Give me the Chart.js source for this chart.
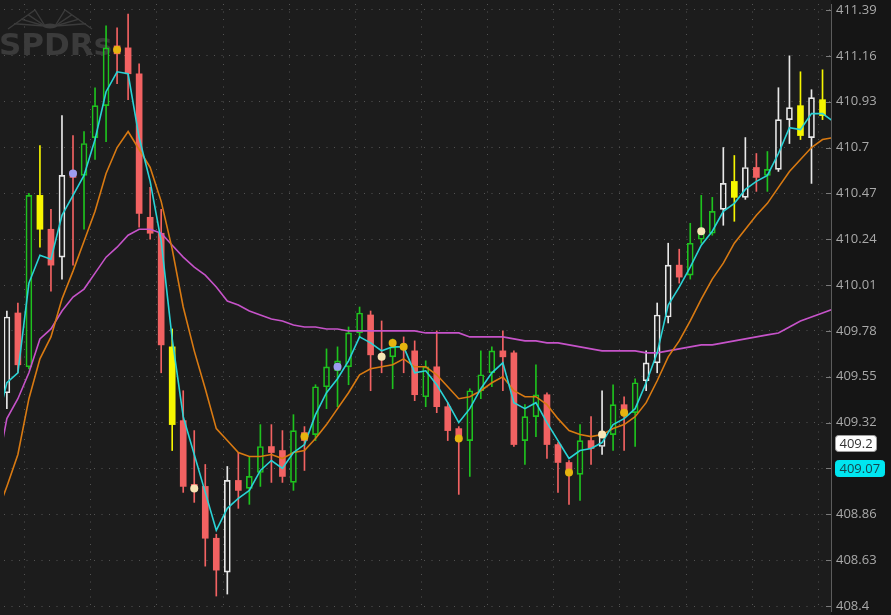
<!DOCTYPE html>
<html>
<head>
<meta charset="utf-8">
<script src="https://cdn.jsdelivr.net/npm/chart.js@4.4.1/dist/chart.umd.min.js"></script>
<style>
  html, body { margin: 0; padding: 0; background: #1b1b1b; }
  canvas { display: block; }
</style>
</head>
<body>
<canvas id="chart" width="891" height="615"></canvas>
<script>
// OHLC per bar
const opens  = [409.47,409.87,409.60,410.46,410.29,410.15,410.58,410.56,410.75,410.91,
                411.21,411.20,411.07,410.35,410.27,409.70,409.33,409.01,409.00,408.74,
                408.57,409.03,408.99,409.07,409.20,409.18,409.02,409.27,409.26,409.50,
                409.58,409.60,409.77,409.86,409.66,409.65,409.71,409.68,409.45,409.60,
                409.40,409.29,409.23,409.48,409.57,409.68,409.67,409.23,409.35,409.46,
                409.21,409.12,409.06,409.23,409.20,409.26,409.41,409.37,409.53,409.62,
                409.85,410.11,410.06,410.24,410.27,410.39,410.53,410.45,410.60,410.56,
                410.59,410.84,410.91,410.75,410.94];
const highs  = [409.88,409.92,410.47,410.71,410.39,410.86,410.76,410.78,411.00,411.31,
                411.30,411.37,411.12,410.50,410.39,409.79,409.48,409.28,409.11,408.76,
                409.10,409.17,409.15,409.31,409.31,409.28,409.36,409.30,409.51,409.69,
                409.70,409.80,409.90,409.88,409.83,409.74,409.75,409.73,409.63,409.78,
                409.42,409.30,409.49,409.68,409.70,409.78,409.68,409.41,409.61,409.47,
                409.22,409.13,409.31,409.35,409.48,409.51,409.45,409.54,409.68,409.92,
                410.22,410.19,410.32,410.46,410.45,410.70,410.66,410.75,410.67,410.68,
                411.00,411.16,411.08,410.99,411.09];
const lows   = [409.39,409.57,409.59,410.20,409.98,410.04,410.11,410.29,410.64,410.73,
                411.02,410.94,410.30,410.24,409.57,409.18,408.97,408.92,408.60,408.45,
                408.46,408.89,408.91,409.00,409.02,409.02,408.98,409.08,409.23,409.39,
                409.40,409.51,409.75,409.48,409.57,409.49,409.57,409.43,409.40,409.37,
                409.23,408.96,409.05,409.44,409.50,409.48,409.20,409.11,409.25,409.14,
                408.97,408.91,408.93,409.11,409.16,409.18,409.18,409.20,409.48,409.57,
                409.82,410.02,410.04,410.22,410.26,410.31,410.33,410.44,410.48,410.48,
                410.58,410.72,410.74,410.52,410.84];
const closes = [409.85,409.61,410.46,410.29,410.11,410.56,410.55,410.72,410.91,411.20,
                411.17,411.07,410.37,410.27,409.71,409.31,409.00,408.98,408.74,408.58,
                409.03,408.98,409.05,409.20,409.17,409.05,409.28,409.23,409.50,409.60,
                409.63,409.77,409.87,409.66,409.64,409.70,409.69,409.46,409.60,409.40,
                409.28,409.23,409.48,409.56,409.68,409.65,409.21,409.35,409.46,409.21,
                409.12,409.07,409.23,409.19,409.26,409.41,409.37,409.52,409.62,409.86,
                410.11,410.05,410.22,410.27,410.38,410.52,410.45,410.60,410.55,410.59,
                410.84,410.90,410.76,410.95,410.86];
// paint code per bar: G green, R red, Y yellow, W white
const candleColors = ['W','R','G','Y','R','W','R','G','G','G',
                      'R','R','R','R','R','Y','R','R','R','R',
                      'W','R','G','G','R','R','G','R','G','G',
                      'G','G','G','R','R','G','R','R','G','R',
                      'R','R','G','G','G','R','R','G','G','R',
                      'R','R','G','R','W','G','R','G','W','W',
                      'W','R','G','G','G','W','Y','W','R','G',
                      'W','W','Y','W','Y'];

// moving averages, bar -1 .. bar 75 (one bar past each edge)
const LINE_FIRST_BAR = -1;
const fastAvg = [409.29,409.52,409.57,410.02,410.16,410.14,410.36,410.46,410.56,410.74,
                 410.98,411.08,411.07,410.75,410.53,410.23,409.74,409.35,409.16,408.97,
                 408.78,408.89,408.94,408.98,409.08,409.13,409.09,409.17,409.21,409.36,
                 409.47,409.54,409.63,409.75,409.72,409.68,409.70,409.70,409.57,409.58,
                 409.51,409.42,409.32,409.39,409.49,409.57,409.62,409.42,409.39,409.42,
                 409.32,409.23,409.14,409.18,409.19,409.22,409.31,409.34,409.39,409.52,
                 409.67,409.91,410.00,410.10,410.21,410.28,410.38,410.42,410.49,410.53,
                 410.56,410.67,410.80,410.79,410.87,410.87,410.83];
const midAvg  = [408.85,409.00,409.16,409.44,409.64,409.75,409.94,410.08,410.23,410.38,
                 410.57,410.70,410.78,410.69,410.60,410.43,410.19,409.90,409.68,409.49,
                 409.29,409.23,409.17,409.15,409.15,409.16,409.14,409.17,409.18,409.24,
                 409.31,409.39,409.47,409.56,409.59,409.60,409.61,409.64,409.60,409.60,
                 409.56,409.50,409.44,409.45,409.48,409.52,409.55,409.48,409.45,409.45,
                 409.41,409.34,409.28,409.26,409.25,409.26,409.29,409.31,409.35,409.42,
                 409.53,409.65,409.73,409.83,409.94,410.04,410.12,410.22,410.29,410.36,
                 410.42,410.50,410.58,410.64,410.70,410.74,410.75];
const slowAvg = [409.05,409.34,409.44,409.57,409.74,409.79,409.88,409.95,409.99,410.07,
                 410.15,410.20,410.26,410.29,410.29,410.27,410.21,410.15,410.10,410.06,
                 410.00,409.93,409.91,409.88,409.86,409.84,409.83,409.81,409.80,409.80,
                 409.79,409.79,409.78,409.78,409.78,409.78,409.78,409.78,409.78,409.77,
                 409.77,409.77,409.77,409.75,409.75,409.75,409.75,409.74,409.73,409.73,
                 409.72,409.72,409.71,409.70,409.69,409.68,409.68,409.68,409.68,409.67,
                 409.67,409.68,409.69,409.70,409.71,409.71,409.72,409.73,409.74,409.75,
                 409.76,409.77,409.80,409.83,409.85,409.87,409.89];

// signal dots: G gold, P purple, C cream
const dotBars   = [6, 10, 17, 27, 30, 34, 35, 36, 41, 51, 54, 56, 63];
const dotPrices = [410.57,411.19,408.99,409.25,409.60,409.65,409.72,409.70,409.24,409.07,409.26,409.37,410.28];
const dotKinds  = ['P','G','C','G','P','C','G','G','G','G','C','G','C'];

const yTicks = [411.39,411.16,410.93,410.70,410.47,410.24,410.01,409.78,409.55,409.32,409.09,408.86,408.63,408.40];
const tagPrices = [409.2, 409.07];
const tagLabels = ['409.2', '409.07'];

const PALETTE = { G: '#1ec21e', R: '#f26262', Y: '#f6f600', W: '#e8e8e8' };
const DOT_COLORS = { G: '#e6b40f', P: '#9d9cf0', C: '#f7e5b6' };
const TAG_STYLE = [
  { fill: '#ffffff', stroke: '#a0a0a0', ink: '#333333' },
  { fill: '#00e6f0', stroke: '#00e6f0', ink: '#15474e' }
];

const X_MIN = -0.26, X_MAX = 74.77;
const Y_MIN = 408.375, Y_MAX = 411.42;
const GRID_FIRST = 4.62, GRID_STEP = 6;
const AXIS_W = 60;
const TAG_LIFT = 4;

const bars = opens.map((_, i) => i);
const rising = bars.map(i => closes[i] >= opens[i]);
const tint = bars.map(i => PALETTE[candleColors[i]]);
const lineData = arr => arr.map((v, k) => ({ x: k + LINE_FIRST_BAR, y: v }));

function barSet(data, extra) {
  return Object.assign({
    type: 'bar',
    data,
    backgroundColor: tint,
    borderWidth: 0,
    borderSkipped: false,
    grouped: false,
    barThickness: 1,
    order: 10
  }, extra);
}

function lineSet(arr, color, order) {
  return {
    type: 'line',
    data: lineData(arr),
    borderColor: color,
    borderWidth: 1.6,
    pointRadius: 0,
    tension: 0,
    order
  };
}

const upperWicks = barSet(bars.map(i => ({ x: i, y: [Math.max(opens[i], closes[i]), highs[i]] })));
const lowerWicks = barSet(bars.map(i => ({ x: i, y: [lows[i], Math.min(opens[i], closes[i])] })));
const bodies = barSet(bars.map(i => ({ x: i, y: [opens[i], closes[i]] })), {
  backgroundColor: bars.map(i => rising[i] ? 'rgba(0,0,0,0)' : tint[i]),
  borderColor: tint,
  borderWidth: bars.map(i => rising[i] ? 1 : 0),
  barThickness: 6,
  order: 9
});

const dots = {
  type: 'scatter',
  data: dotBars.map((b, k) => ({ x: b, y: dotPrices[k] })),
  pointRadius: 4,
  pointBorderWidth: 0,
  pointBackgroundColor: dotKinds.map(k => DOT_COLORS[k]),
  order: 0
};

function drawWatermark(ctx) {
  ctx.save();
  ctx.fillStyle = '#3b3b3b';
  ctx.strokeStyle = '#3b3b3b';
  ctx.font = 'bold 31px "DejaVu Sans"';
  ctx.textBaseline = 'alphabetic';
  ctx.fillText('SPDRs', -1, 55);
  // eagle wings
  ctx.lineWidth = 1.4;
  const cx = 50, cy = 26;
  [-1, 1].forEach(s => {
    ctx.beginPath();
    ctx.moveTo(cx + s * 5, cy);
    ctx.lineTo(cx + s * 15, 10);
    ctx.lineTo(cx + s * 42, 29);
    ctx.stroke();
    for (let k = 1; k <= 3; k++) {
      ctx.beginPath();
      ctx.moveTo(cx + s * 5, cy);
      ctx.lineTo(cx + s * (15 + k * 7), 10 + k * 4.6);
      ctx.stroke();
    }
  });
  ctx.beginPath();
  ctx.ellipse(cx, cy, 7, 2.5, 0, 0, Math.PI * 2);
  ctx.fill();
  ctx.restore();
}

function drawTag(ctx, yPx, text, st) {
  ctx.save();
  ctx.font = '13px "Open Sans"';
  const w = Math.round(ctx.measureText(text).width) + 8;
  const h = 16, x = 835.5, y = Math.round(yPx - h / 2) + 0.5;
  ctx.beginPath();
  if (ctx.roundRect) ctx.roundRect(x, y, w, h, 3); else ctx.rect(x, y, w, h);
  ctx.fillStyle = st.fill;
  ctx.fill();
  ctx.strokeStyle = st.stroke;
  ctx.lineWidth = 1;
  ctx.stroke();
  ctx.fillStyle = st.ink;
  ctx.textBaseline = 'middle';
  ctx.fillText(text, x + 4, y + h / 2 + 0.5);
  ctx.restore();
}

const chrome = {
  id: 'chrome',
  beforeDraw(chart) {
    const ctx = chart.ctx, right = chart.chartArea.right;
    ctx.save();
    ctx.fillStyle = '#1c1c1c';
    ctx.fillRect(0, 0, chart.width, chart.height);
    ctx.fillStyle = '#151515';
    ctx.fillRect(right, 0, chart.width - right, chart.height);
    ctx.restore();
  },
  beforeDatasetsDraw(chart) {
    drawWatermark(chart.ctx);
  },
  afterDraw(chart) {
    const ctx = chart.ctx, ys = chart.scales.y, right = chart.chartArea.right;
    ctx.save();
    ctx.strokeStyle = '#7a7a7a';
    ctx.lineWidth = 1;
    yTicks.forEach(v => {
      const py = Math.round(ys.getPixelForValue(v)) + 0.5;
      ctx.beginPath();
      ctx.moveTo(right - 5, py);
      ctx.lineTo(right, py);
      ctx.stroke();
    });
    ctx.restore();
    tagPrices.forEach((v, k) => drawTag(ctx, ys.getPixelForValue(v) - TAG_LIFT, tagLabels[k], TAG_STYLE[k]));
  }
};

new Chart(document.getElementById('chart').getContext('2d'), {
  type: 'bar',
  data: {
    datasets: [
      dots,
      lineSet(fastAvg, '#2ad3d6', 1),
      lineSet(midAvg, '#d97a12', 2),
      lineSet(slowAvg, '#c653c9', 3),
      bodies,
      upperWicks,
      lowerWicks
    ]
  },
  options: {
    responsive: false,
    animation: false,
    events: [],
    layout: { padding: 0 },
    plugins: { legend: { display: false }, tooltip: { enabled: false } },
    scales: {
      x: {
        type: 'linear',
        min: X_MIN,
        max: X_MAX,
        offset: false,
        afterBuildTicks: s => {
          const t = [];
          for (let v = GRID_FIRST; v < X_MAX; v += GRID_STEP) t.push({ value: v });
          s.ticks = t;
        },
        afterFit: s => { s.height = 0; s.paddingLeft = 0; s.paddingRight = 0; },
        grid: { color: '#535353', lineWidth: 1, drawTicks: false },
        border: { display: false, dash: [1, 6.5] },
        ticks: { display: false }
      },
      y: {
        position: 'right',
        min: Y_MIN,
        max: Y_MAX,
        afterBuildTicks: s => { s.ticks = yTicks.map(v => ({ value: v })); },
        afterFit: s => { s.width = AXIS_W; s.paddingTop = 0; s.paddingBottom = 0; },
        grid: { color: '#535353', lineWidth: 1, drawTicks: false },
        border: { display: true, color: '#5c5c5c', width: 1, dash: [1, 6.5] },
        ticks: {
          color: '#a9a9a9',
          padding: 5,
          autoSkip: false,
          font: { family: '"Open Sans"', size: 13 },
          callback: v => String(Number(Number(v).toFixed(2)))
        }
      }
    }
  },
  plugins: [chrome]
});
</script>
</body>
</html>
